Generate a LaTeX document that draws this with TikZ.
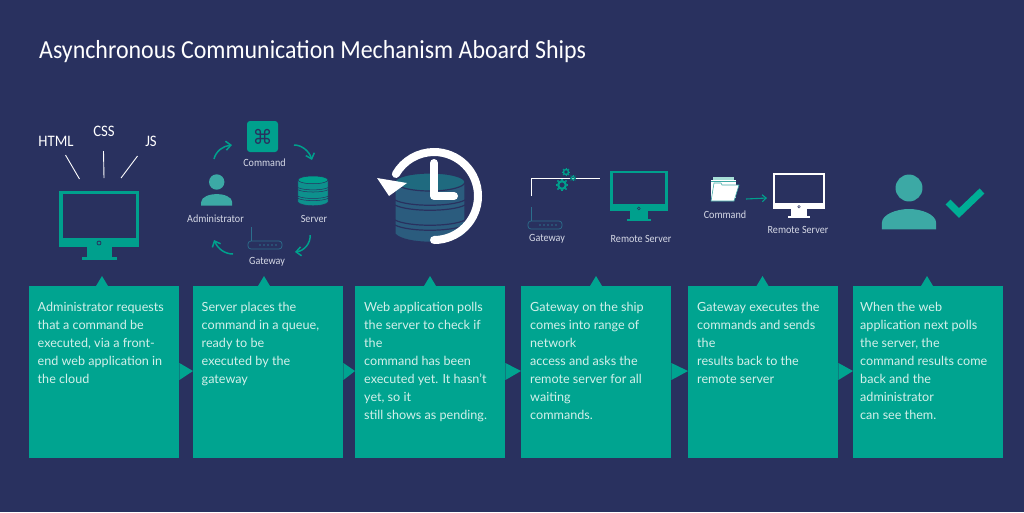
\documentclass[tikz,border=0pt]{standalone}
\usepackage{fontspec}
\setmainfont{Lato}
\newfontfamily\capfont[FakeStretch=0.92]{Carlito}
\newfontfamily\symfont{DejaVu Sans}
\usetikzlibrary{calc,arrows.meta}

\definecolor{navy}{HTML}{29315F}
\definecolor{tealpanel}{HTML}{00A490}
\definecolor{tealicon}{HTML}{00A08D}
\definecolor{tealperson}{HTML}{3CA9A5}
\definecolor{tealcheck}{HTML}{00AE95}
\definecolor{routerblue}{HTML}{2C6E8C}
\definecolor{captext}{HTML}{D6D9E6}
\definecolor{paneltext}{HTML}{D3F0EA}

\tikzset{
	panel/.style={fill=tealpanel, minimum width=150pt, minimum height=172pt, anchor=north west, inner sep=0pt},
	paneltxt/.style={anchor=north west, inner sep=0pt, text=paneltext, align=left, font=\fontsize{12.6}{18}\selectfont},
	caption/.style={text=captext, inner sep=0pt, font=\capfont\fontsize{11}{13}\selectfont},
	markup/.style={text=white, inner sep=0pt, font=\capfont\fontsize{16}{18}\selectfont},
	curl/.style={draw=tealicon, line width=1.5pt, -{Straight Barb[length=5pt,width=9pt]}}
}

\def\toptip(#1)(#2){\fill[tealpanel] ($(#1.north west)+(#2-6,0)$) -- ($(#1.north west)+(#2,-10)$) -- ($(#1.north west)+(#2+6,0)$) -- cycle;}
\def\flowtip(#1)(#2){\fill[tealpanel] ($(#1.north east)+(0,77)$) -- ($(#2.north west)+(0,85)$) -- ($(#1.north east)+(0,94)$) -- cycle;}
\def\monitor[#1](#2)(#3){\begin{scope}[shift={(#2)},scale=#3]
	\fill[#1] (0,0) rectangle (80,56);
	\fill[navy] (3.5,3) rectangle (76.5,46.5);
	\fill[#1] (28,56) rectangle (52.5,66);
	\fill[#1] (23,66) rectangle (57.5,69);
	\draw[navy, line width=#3*0.8pt] (40,52) circle (2);
\end{scope}}
\def\person(#1)(#2){\begin{scope}[shift={(#1)},scale=#2]
	\fill[tealperson] (0,0) circle (7.7);
	\fill[tealperson] (-15.5,23.7) -- (-15.5,20) .. controls (-15.5,15) and (-7,12) .. (0,12) .. controls (7,12) and (15.5,15) .. (15.5,20) -- (15.5,23.7) -- cycle;
\end{scope}}
\def\dbstack[#1][#2](#3)(#4){\begin{scope}[shift={(#3)},scale=#4]
	\fill[#1, draw=navy, line width=#4*1.2pt] (-35,9) -- (-35,61) .. controls (-25,72) and (25,72) .. (35,61) -- (35,9) -- cycle;
	\fill[#2, draw=navy, line width=#4*1.2pt] (0,9) ellipse (35 and 9);
	\foreach \y in {27,32,47,52} {
		\draw[navy, line width=#4*1.2pt] (-35,\y) .. controls (-22,\y+7) and (22,\y+7) .. (35,\y);
	}
\end{scope}}
\def\router(#1){\begin{scope}[shift={(#1)}]
	\draw[routerblue, line width=0.7pt, rounded corners=3pt] (0,0) rectangle (34,8);
	\draw[routerblue, line width=1pt] (3,0) -- (3,-14);
	\foreach \x in {12,16,20,24,28} {
		\fill[routerblue] (\x,4) circle (0.9);
	}
\end{scope}}
\def\gear(#1)(#2){\begin{scope}[shift={(#1)}]
	\draw[tealicon, line width=#2*0.45pt] (0,0) circle (#2*0.8);
	\foreach \a in {0,45,...,315} {
		\draw[tealicon, line width=#2*0.3pt] (\a:#2) -- (\a:#2*1.35);
	}
\end{scope}}

\begin{document}
\begin{tikzpicture}[x=1pt, y=-1pt]
	%%%%% START %%%%%
	
	\useasboundingbox[fill=navy] (0,0) rectangle (1024,512);
	
	\node[anchor=west, text=white, inner sep=0pt, font=\capfont\fontsize{26}{30}\selectfont] (title) at (39,52) {Asynchronous Communication Mechanism Aboard Ships};
	
	% panels
	\node[panel] (panA) at (29,286) {};
	\node[panel] (panB) at (193,286) {};
	\node[panel] (panC) at (355,286) {};
	\node[panel] (panD) at (521,286) {};
	\node[panel] (panE) at (688,286) {};
	\node[panel] (panF) at (853,286) {};
	
	\toptip(panA)(73)
	\toptip(panB)(71)
	\toptip(panC)(75)
	\toptip(panD)(75)
	\toptip(panE)(74.5)
	\toptip(panF)(74)
	
	\flowtip(panA)(panB)
	\flowtip(panB)(panC)
	\flowtip(panC)(panD)
	\flowtip(panD)(panE)
	\flowtip(panE)(panF)
	
	\node[paneltxt] (txtA) at (37.5,302) {Administrator requests\\that a command be\\executed, via a front-\\end web application in\\the cloud};
	\node[paneltxt] (txtB) at (201.5,302) {Server places the\\command in a queue,\\ready to be\\executed by the\\gateway};
	\node[paneltxt] (txtC) at (364,302) {Web application polls\\the server to check if\\the\\command has been\\executed yet. It hasn't\\yet, so it\\still shows as pending.};
	\node[paneltxt] (txtD) at (530,302) {Gateway on the ship\\comes into range of\\network\\access and asks the\\remote server for all\\waiting\\commands.};
	\node[paneltxt] (txtE) at (697,302) {Gateway executes the\\commands and sends\\the\\results back to the\\remote server};
	\node[paneltxt] (txtF) at (860,302) {When the web\\application next polls\\the server, the\\command results come\\back and the\\administrator\\can see them.};
	
	% step one
	\monitor[tealicon](59,191)(1)
	\node[markup] (html) at (56,141) {HTML};
	\node[markup] (css) at (104,131) {CSS};
	\node[markup] (js) at (151,141) {JS};
	\draw[white, line width=0.9pt] (65.5,155) -- (79.5,179);
	\draw[white, line width=0.9pt] (103.5,151) -- (104,178);
	\draw[white, line width=0.9pt] (137.5,156) -- (121,178);
	
	% step two
	\fill[tealicon, rounded corners=3pt] (247,121) rectangle (278,152);
	\node[text=navy, inner sep=0pt, font=\symfont\fontsize{20}{20}\selectfont] (cmdkey) at (262.5,136.5) {⌘};
	\node[caption] (capcmd) at (264.5,163) {Command};
	\person(216.7,182)(1)
	\node[caption] (capadmin) at (215.5,218.5) {Administrator};
	\dbstack[tealicon!70!routerblue][tealicon](313,176)(0.43)
	\node[caption] (capsrv) at (314,218.5) {Server};
	\router(248,241)
	\node[caption] (capgw) at (267,261.5) {Gateway};
	\draw[curl] (214,159) .. controls (216,151) and (223,146) .. (232,145);
	\draw[curl] (294,145) .. controls (302,145) and (309,151) .. (312,160);
	\draw[curl] (310,235) .. controls (311,243) and (304,251) .. (295,252);
	\draw[curl] (233,254) .. controls (225,254) and (218,249) .. (214,240);
	
	% step three
	\dbstack[routerblue!70!navy][routerblue!60!tealicon!70!navy](430,173)(1)
	\draw[white, line width=8pt, line cap=round] (434,240) arc (90:-150:44);
	\fill[white] (377,178) -- (407,183) -- (389,196) -- cycle;
	\draw[white, line width=8pt, line cap=round, line join=round] (434,163) -- (434,196) -- (454,196);
	
	% step four
	\draw[white, line width=0.9pt] (531,196) -- (531,178) -- (600,178);
	\gear(566,172)(3.2)
	\gear(562,185)(4.8)
	\gear(573,178)(2.4)
	\router(528,221)
	\node[caption] (capgwb) at (547,238.5) {Gateway};
	\monitor[tealicon](610,171)(0.72)
	\node[caption] (capremote) at (641,238.5) {Remote Server};
	
	% step five
	\fill[tealicon!35!white] (713,177) rectangle (734,198);
	\fill[white] (711,180) rectangle (736,198);
	\draw[tealperson, line width=0.6pt] (711,181) -- (736,181);
	\fill[white, draw=tealperson, line width=0.6pt] (711,201) -- (714,183) -- (721,183) -- (722,185) -- (739,185) -- (734,201) -- cycle;
	\node[caption] (capcmdb) at (725,215) {Command};
	\draw[tealicon, line width=1.1pt, -{Straight Barb[length=4pt,width=7pt]}] (746,199) -- (767,198);
	\monitor[white](773,173)(0.65)
	\node[caption] (capremoteb) at (798,230) {Remote Server};
	
	% step six
	\person(909,188)(1.75)
	\draw[tealcheck, line width=7pt] (948,202) -- (959,213) -- (982,191);
	
	%%%%% END %%%%%
\end{tikzpicture}
\end{document}
